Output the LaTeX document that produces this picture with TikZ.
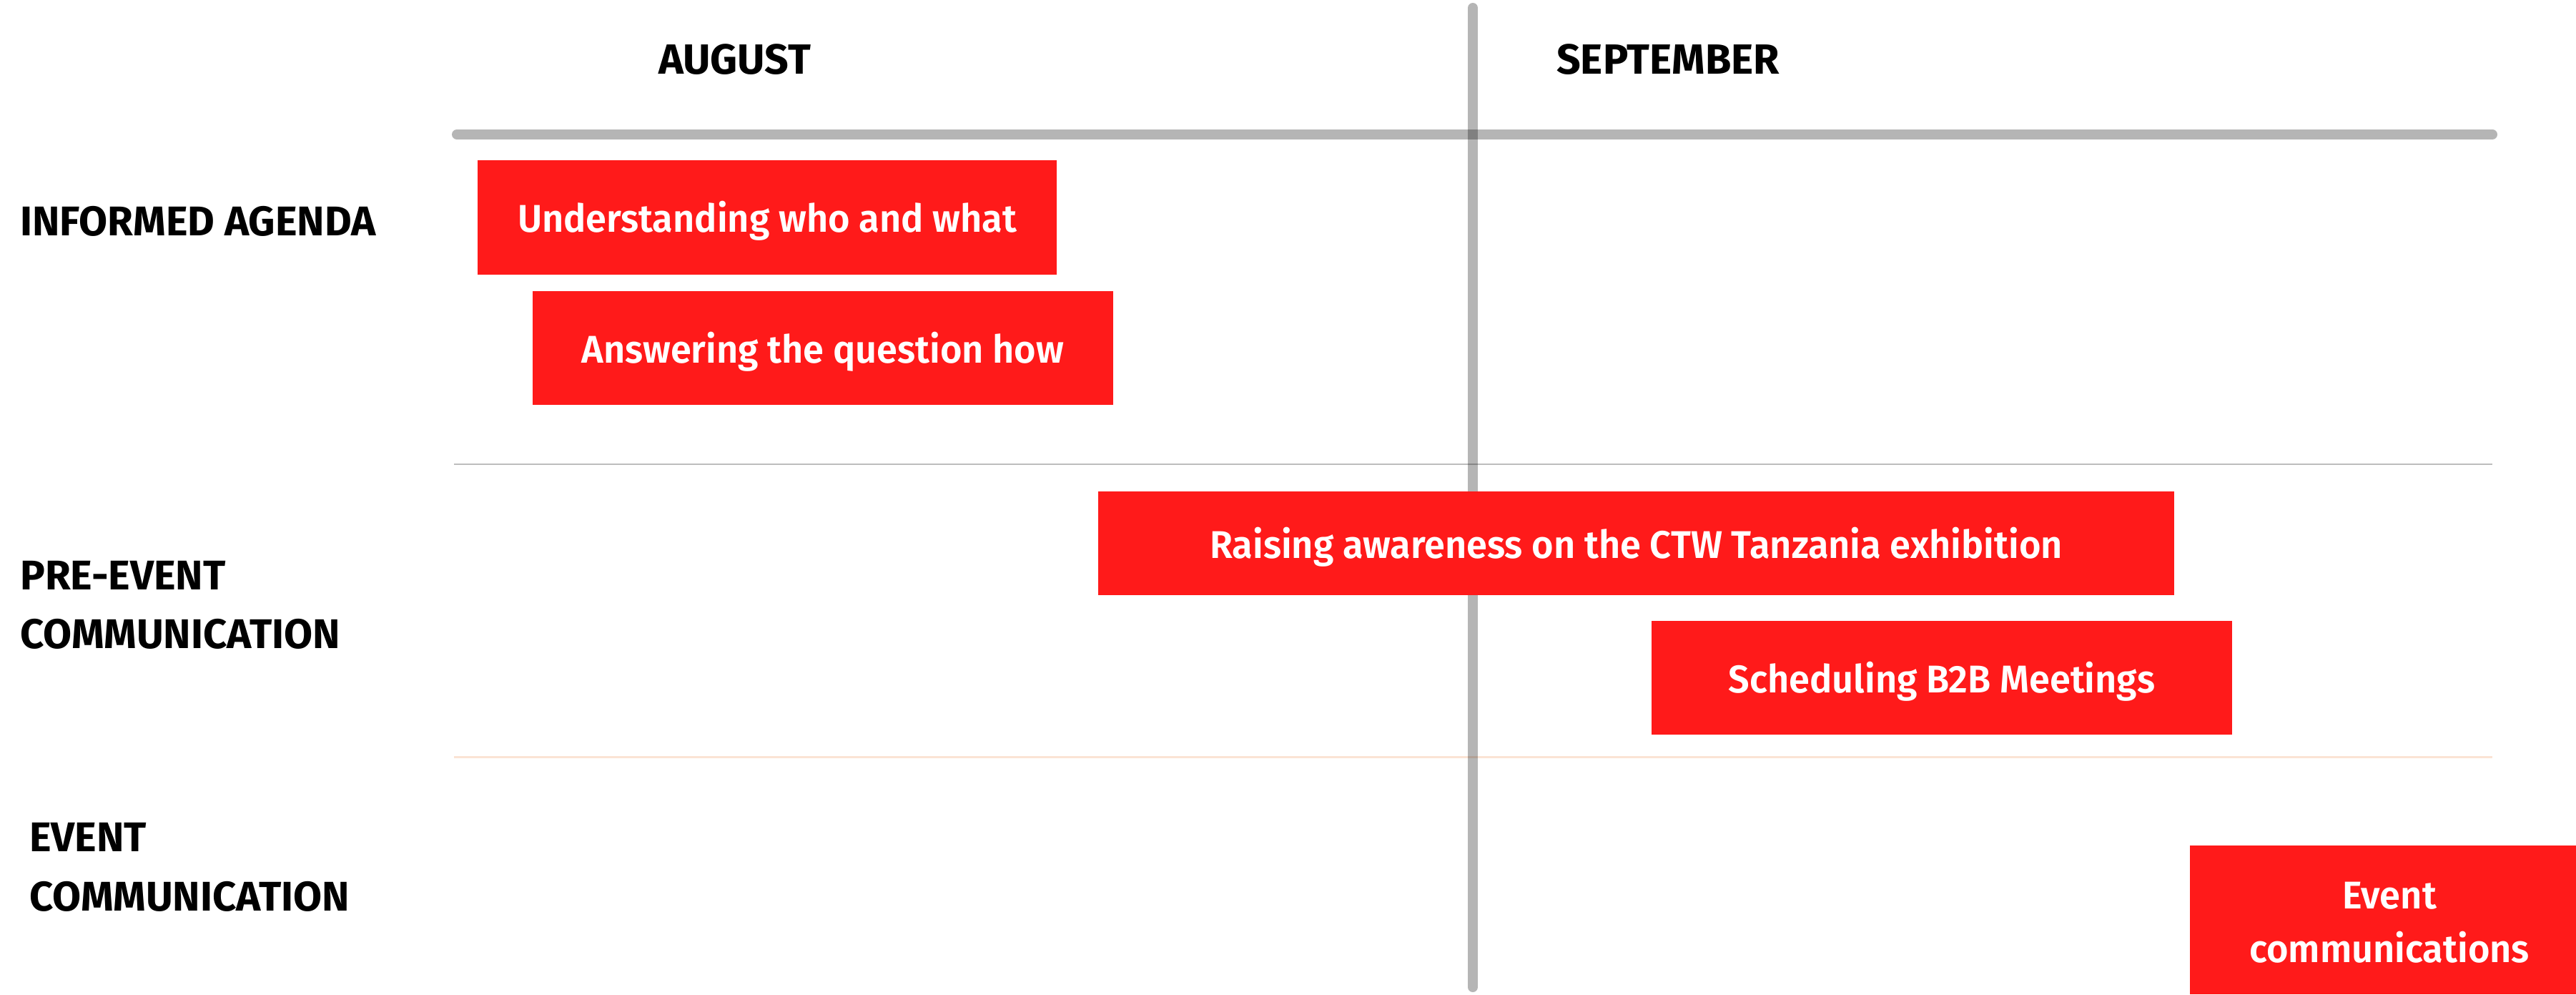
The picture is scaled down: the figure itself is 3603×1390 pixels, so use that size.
\documentclass[tikz,border=0pt]{standalone}
\usepackage{fontspec}
\newfontfamily\labfont{Fira Sans Bold}
\newfontfamily\barfont[FakeStretch=0.968]{Fira Sans SemiBold}
\definecolor{barred}{HTML}{FF1A1A}
\definecolor{gridgray}{HTML}{BDBDBD}
\definecolor{peach}{HTML}{FBE3D4}
\tikzset{
  rowlab/.style={anchor=base west, inner sep=0pt, font=\labfont\fontsize{58}{70}\selectfont, text=black},
  monthlab/.style={anchor=base west, inner sep=0pt, font=\labfont\fontsize{59}{70}\selectfont, text=black},
  bar/.style={fill=barred, draw=none, inner sep=0pt},
  task/.style={bar, text=white, font=\barfont\fontsize{54}{75}\selectfont, text height=41pt, text depth=0pt},
  tasktext/.style={inner sep=0pt, text=white, font=\barfont\fontsize{54}{75}\selectfont, align=center},
  thickrule/.style={draw=black, draw opacity=0.29, line width=14pt, line cap=round},
}
\begin{document}
\begin{tikzpicture}[x=1pt,y=-1pt]
\useasboundingbox[fill=white] (0,0) rectangle (3603,1390);
% grid lines
\coordinate (g1l) at (635,649); \coordinate (g1r) at (3486,649);
\coordinate (g2l) at (635,1058); \coordinate (g2r) at (3486,1058);
\coordinate (tl) at (639,188); \coordinate (tr) at (3486,188);
\coordinate (vt) at (2060,11); \coordinate (vb) at (2060,1380);
\draw[gridgray, line width=2.5pt] (g1l) -- (g1r);
\draw[peach, line width=3pt] (g2l) -- (g2r);
\draw[thickrule] (tl) -- (tr);
\draw[thickrule] (vt) -- (vb);
% month labels
\node[monthlab] (aug) at (921,103) {AUGUST};
\node[monthlab] (sep) at (2177,103) {SEPTEMBER};
% row labels
\node[rowlab] (ia) at (28,329) {INFORMED AGENDA};
\node[rowlab] (pe1) at (28,824) {PRE-EVENT};
\node[rowlab] (pe2) at (28,906) {COMMUNICATION};
\node[rowlab] (ev1) at (41,1190) {EVENT};
\node[rowlab] (ev2) at (41,1273) {COMMUNICATION};
% task bars
\node[task, minimum width=810pt, minimum height=160pt] (t1) at (1073,304) {Understanding who and what};
\node[task, minimum width=812pt, minimum height=159pt] (t2) at (1151,486.5) {Answering the question how};
\node[task, minimum width=1505pt, minimum height=145pt] (t3) at (2288.5,759.5) {Raising awareness on the CTW Tanzania exhibition};
\node[task, minimum width=812pt, minimum height=159pt] (t4) at (2716,947.5) {Scheduling B2B Meetings};
\node[bar, minimum width=540pt, minimum height=208pt] (t5) at (3333,1286) {};
\node[tasktext, anchor=south] (t5txt) at (3342,1347) {Event\\communications};
\end{tikzpicture}
\end{document}
